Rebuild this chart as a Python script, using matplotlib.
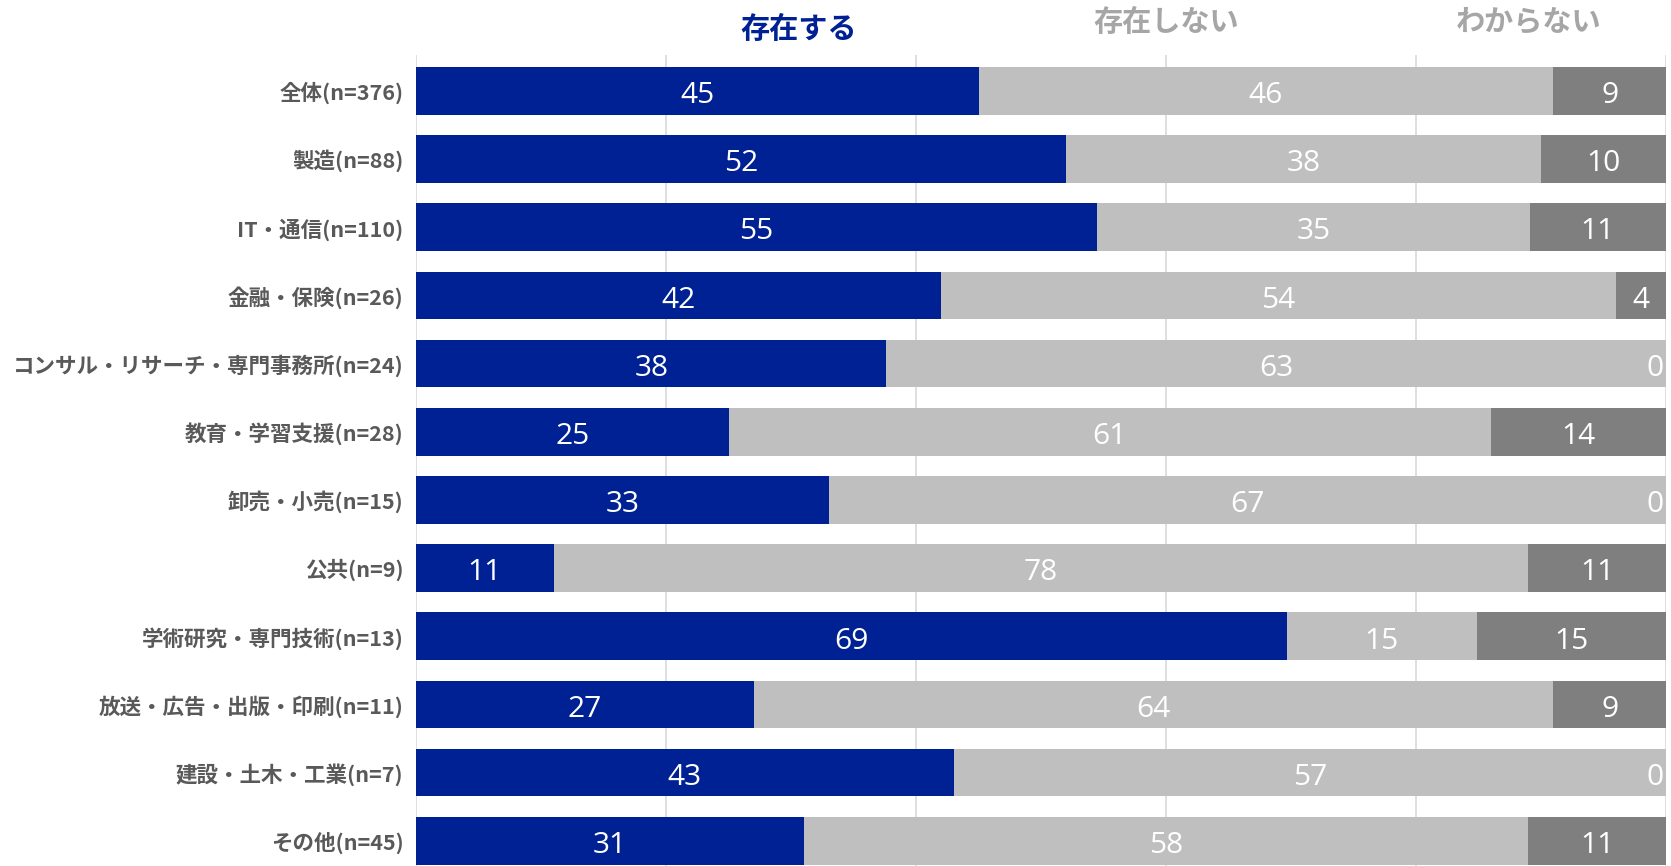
import numpy as np
import matplotlib.pyplot as plt

plt.rcParams['font.family'] = ['Noto Sans CJK JP', 'DejaVu Sans']

# 業種別の回答割合（%）
categories = [
    '全体(n=376)', '製造(n=88)', 'IT・通信(n=110)', '金融・保険(n=26)',
    'コンサル・リサーチ・専門事務所(n=24)', '教育・学習支援(n=28)', '卸売・小売(n=15)',
    '公共(n=9)', '学術研究・専門技術(n=13)', '放送・広告・出版・印刷(n=11)',
    '建設・土木・工業(n=7)', 'その他(n=45)',
]
exists = [45, 52, 55, 42, 38, 25, 33, 11, 69, 27, 43, 31]
not_exists = [46, 38, 35, 54, 63, 61, 67, 78, 15, 64, 57, 58]
unknown = [9, 10, 11, 4, 0, 14, 0, 11, 15, 9, 0, 11]
series_names = ['存在する', '存在しない', 'わからない']

colors = ['#002193', '#BFBFBF', '#7F7F7F']
header_colors = ['#002193', '#A6A6A6', '#A6A6A6']

fig = plt.figure(figsize=(16.71, 8.66), dpi=100)
ax = fig.add_axes([0.249, 0.0, 0.748, 0.936])

data = np.array([exists, not_exists, unknown], dtype=float)
# 四捨五入で合計が100にならない行があるので行ごとに100%へ揃える
shares = data / data.sum(axis=0) * 100

y = np.arange(len(categories))
left = np.zeros(len(categories))
for i in range(3):
    ax.barh(y, shares[i], left=left, height=0.7, color=colors[i], zorder=2)
    for j in range(len(categories)):
        cx = left[j] + shares[i][j] / 2
        cx = min(cx, 99.1)
        ax.text(cx, y[j] + 0.07, f'{int(data[i][j])}', ha='center', va='center',
                color='white', fontsize=21.5, family=['Open Sans', 'DejaVu Sans'], zorder=3)
    left += shares[i]

ax.set_xlim(0, 100)
ax.set_ylim(11.37, -0.52)
ax.set_xticks([0, 20, 40, 60, 80, 100])
ax.set_xticklabels([])
ax.tick_params(axis='x', length=0)
ax.tick_params(axis='y', length=0, pad=9)
ax.set_yticks(y)
ax.set_yticklabels(categories, fontsize=15.5, fontweight='bold', color='#595959')
ax.grid(True, axis='x', color='#D9D9D9', linewidth=1.2, zorder=0)
for s in ax.spines.values():
    s.set_visible(False)

# 凡例代わりの見出し
fig.text(0.478, 0.967, series_names[0], ha='center', va='center',
         fontsize=21, fontweight='bold', color=header_colors[0])
fig.text(0.698, 0.975, series_names[1], ha='center', va='center',
         fontsize=21, fontweight='bold', color=header_colors[1])
fig.text(0.915, 0.975, series_names[2], ha='center', va='center',
         fontsize=21, fontweight='bold', color=header_colors[2])

fig.savefig('out.png', dpi=100)
